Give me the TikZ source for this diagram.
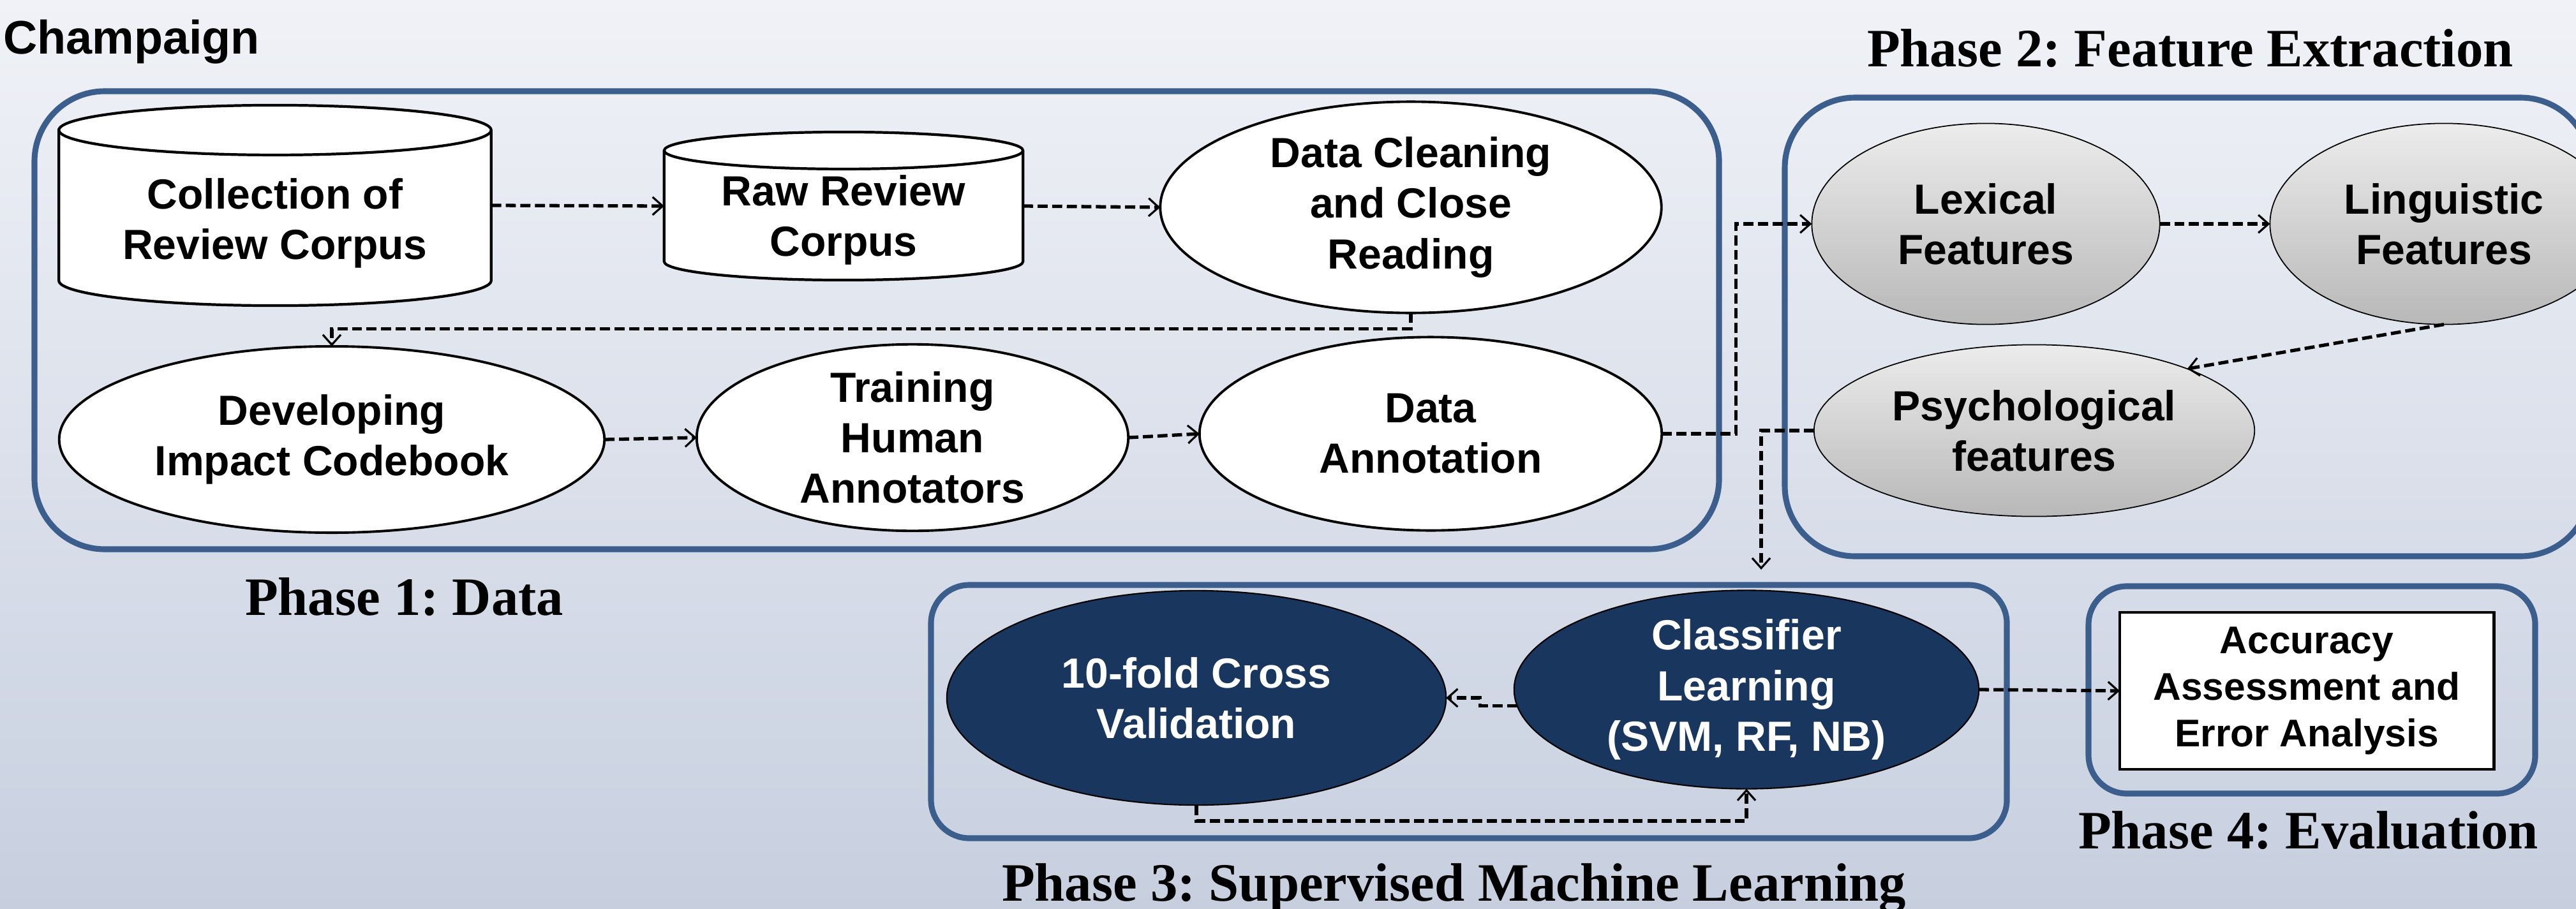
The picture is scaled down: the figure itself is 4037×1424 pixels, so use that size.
\documentclass[tikz,border=0pt]{standalone}
\usepackage{fontspec}
\setmainfont{Liberation Serif}
\newfontfamily\arialfont{Liberation Sans}
\usetikzlibrary{shapes.geometric,arrows.meta}
\definecolor{phaseblue}{RGB}{59,94,140}
\definecolor{navy}{RGB}{25,54,94}
\definecolor{bgtop}{RGB}{240,242,247}
\definecolor{bgbottom}{RGB}{199,207,223}
\definecolor{feattop}{RGB}{236,236,236}
\definecolor{featbottom}{RGB}{184,184,184}
\frenchspacing

\begin{document}
\begin{tikzpicture}[x=0.01cm, y=-0.01cm,
  every node/.style={outer sep=0pt, inner sep=0pt},
  txt/.style={font=\arialfont\bfseries\fontsize{18.8}{22.5}\selectfont, align=center},
  store/.style={rectangle},
  cylline/.style={draw, fill=white, line width=1.2pt},
  proc/.style={txt, ellipse, draw, fill=white, line width=1.1pt},
  feat/.style={txt, ellipse, draw, line width=0.5pt, top color=feattop, bottom color=featbottom},
  learn/.style={txt, ellipse, draw, fill=navy, text=white, line width=0.6pt},
  phase/.style={draw=phaseblue, line width=2.6pt},
  title/.style={font=\bfseries\fontsize{24.1}{28}\selectfont, anchor=base west},
  flow/.style={line width=1.5pt, dash pattern=on 4.5pt off 2pt, -{Straight Barb[length=4.5pt,width=8pt,line width=0.9pt]}}]

\useasboundingbox (0,0) rectangle (4037,1424);
\clip (0,0) rectangle (4037,1424);

% Draw the background
\shade[top color=bgtop, bottom color=bgbottom] (0,0) rectangle (4037,1424);

% Draw the phase frames
\draw[phase, rounded corners=1.1cm] (54,143) rectangle (2694,861);
\draw[phase, rounded corners=1.1cm] (2797,153) rectangle (4060,872);
\draw[phase, rounded corners=0.6cm] (1459,917) rectangle (3145,1314);
\draw[phase, rounded corners=0.6cm] (3273,919) rectangle (3973,1244);

% Draw the titles
\node[txt, font=\arialfont\bfseries\fontsize{21}{25}\selectfont, anchor=base west] (city) at (5,84) {Champaign};
\node[title] (phaseone) at (384,964) {Phase 1: Data};
\node[title] (phasetwo) at (2926,104) {Phase 2: Feature Extraction};
\node[title] (phasethree) at (1570,1412) {Phase 3: Supervised Machine Learning};
\node[title] (phasefour) at (3257,1330) {Phase 4: Evaluation};

% Phase 1: data
\node[store, minimum width=6.77cm, minimum height=3.14cm] (corpus) at (431,322) {};
\draw[cylline] ([yshift=-0.39cm]corpus.north west) -- ([yshift=0.39cm]corpus.south west)
  arc[start angle=180, end angle=360, x radius=3.385cm, y radius=0.39cm]
  -- ([yshift=-0.39cm]corpus.north east)
  arc[start angle=0, end angle=180, x radius=3.385cm, y radius=0.39cm] -- cycle;
\draw[line width=1.2pt] ([yshift=-0.39cm]corpus.north west)
  arc[start angle=180, end angle=360, x radius=3.385cm, y radius=0.39cm];
\node[txt] (corpustext) at (431,350) {Collection of\\Review Corpus};

\node[store, minimum width=5.62cm, minimum height=2.32cm] (raw) at (1322,323) {};
\draw[cylline] ([yshift=-0.29cm]raw.north west) -- ([yshift=0.29cm]raw.south west)
  arc[start angle=180, end angle=360, x radius=2.81cm, y radius=0.29cm]
  -- ([yshift=-0.29cm]raw.north east)
  arc[start angle=0, end angle=180, x radius=2.81cm, y radius=0.29cm] -- cycle;
\draw[line width=1.2pt] ([yshift=-0.29cm]raw.north west)
  arc[start angle=180, end angle=360, x radius=2.81cm, y radius=0.29cm];
\node[txt] (rawtext) at (1322,345) {Raw Review\\Corpus};

\node[proc, minimum width=7.85cm, minimum height=3.31cm] (clean) at (2211,325) {Data Cleaning\\and Close\\Reading};
\node[proc, minimum width=8.54cm, minimum height=2.92cm] (dev) at (520,689) {Developing\\Impact Codebook};
\node[proc, minimum width=6.76cm, minimum height=2.86cm] (train) at (1430,686) {Training\\Human\\Annotators};
\node[proc, minimum width=7.24cm, minimum height=3.03cm] (anno) at (2242,680) {Data\\Annotation};

% Phase 2: features
\node[feat, minimum width=5.45cm, minimum height=3.15cm] (lex) at (3112,351) {Lexical\\Features};
\node[feat, minimum width=5.45cm, minimum height=3.15cm] (ling) at (3830,351) {Linguistic\\Features};
\node[feat, minimum width=6.90cm, minimum height=2.69cm] (psy) at (3188,675) {Psychological\\features};

% Phase 3 and 4: learning and evaluation
\node[learn, minimum width=7.82cm, minimum height=3.36cm] (cv) at (1875,1094) {10-fold Cross\\Validation};
\node[learn, minimum width=7.28cm, minimum height=3.11cm] (cls) at (2737,1081) {Classifier\\Learning\\(SVM, RF, NB)};
\node[txt, rectangle, draw, fill=white, line width=1.3pt, minimum width=5.86cm, minimum height=2.46cm,
  font=\arialfont\bfseries\fontsize{17.2}{20.8}\selectfont] (acc) at (3615,1083) {Accuracy\\Assessment and\\Error Analysis};
\coordinate (drop) at (2760,893);

% Draw the flow
\draw[flow] (corpus.east) -- (raw.west);
\draw[flow] (raw.east) -- (clean.west);
\draw[flow] (clean.south) -- ++(0,25) -| (dev.north);
\draw[flow] (dev.east) -- (train.west);
\draw[flow] (train.east) -- (anno.west);
\draw[flow] (anno.east) -- ++(116,0) |- (lex.west);
\draw[flow] (lex.east) -- (ling.west);
\draw[flow] (ling.south) -- (psy.22);
\draw[flow] (psy.west) -| (drop);
\draw[flow] (cls.184) -- ++(-58,0) |- (cv.east);
\draw[flow] (cv.south) -- ++(0,25) -| (cls.south);
\draw[flow] (cls.east) -- (acc.west);

\end{tikzpicture}
\end{document}
